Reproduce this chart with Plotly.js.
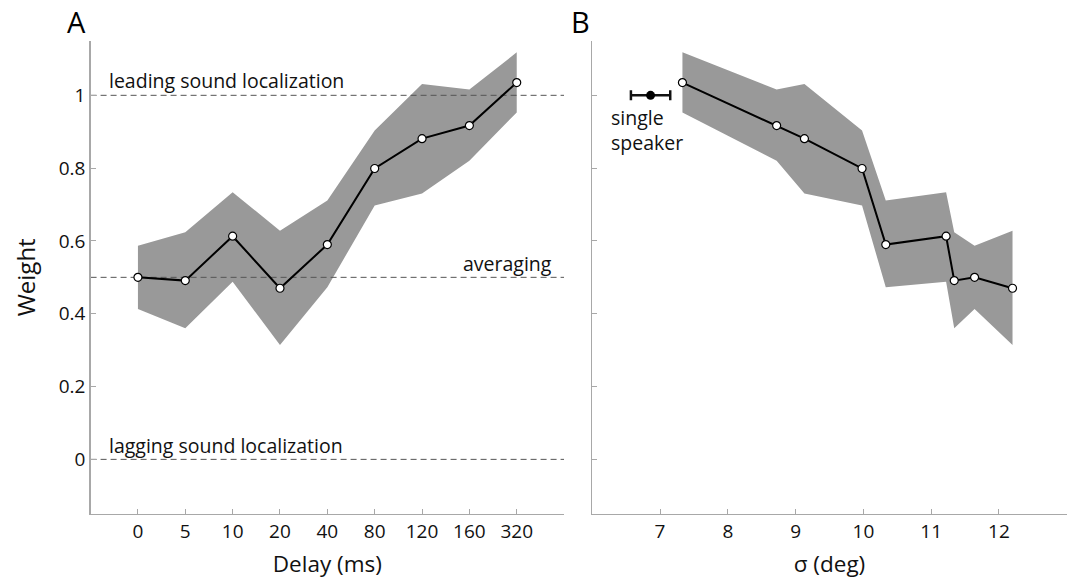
<!DOCTYPE html>
<html><head><meta charset="utf-8">
<script src="https://cdn.plot.ly/plotly-3.0.1.min.js"></script>
<style>html,body{margin:0;padding:0;background:#fff}#chart{width:1072px;height:579px}</style>
</head><body><div id="chart"></div>
<script>
// Panel A: weight vs delay
const delayLabels = ['0','5','10','20','40','80','120','160','320'];
const weightA = [0.500,0.491,0.613,0.470,0.590,0.799,0.881,0.917,1.035];
const upperA  = [0.587,0.624,0.734,0.628,0.711,0.903,1.031,1.016,1.118];
const lowerA  = [0.413,0.360,0.488,0.314,0.473,0.697,0.730,0.820,0.953];

// Panel B: weight vs sigma
const sigmaB  = [7.33,8.72,9.13,9.98,10.33,11.22,11.34,11.64,12.20];
const weightB = [1.035,0.917,0.881,0.799,0.590,0.613,0.491,0.500,0.470];
const upperB  = [1.118,1.016,1.031,0.903,0.711,0.734,0.624,0.587,0.628];
const lowerB  = [0.953,0.820,0.730,0.697,0.473,0.488,0.360,0.413,0.314];

// single speaker reference
const singleSigma = [6.86];
const singleWeight = [1.0];
const singleErr = [0.29];

// reference levels (panel A)
const refLevels = [1, 0.5, 0];
const refLabels = ['leading sound localization', 'averaging', 'lagging sound localization'];

const yTickVals = [0, 0.2, 0.4, 0.6, 0.8, 1];
const yTickText = ['0', '0.2', '0.4', '0.6', '0.8', '1'];
const sigmaTickVals = [7, 8, 9, 10, 11, 12, 13];
const sigmaTickText = ['7', '8', '9', '10', '11', '12', ''];

const xRangeA = [-1, 9];
const xRangeB = [6, 13];
const yRange = [-0.15, 1.15];

const idxA = delayLabels.map((_, i) => i);
const FONT = "'Open Sans', 'Noto Sans', sans-serif";
const BAND = '#999999';

const traces = [];
// Panel A band
traces.push({x: idxA, y: lowerA, mode: 'lines', line: {width: 0, color: BAND}, hoverinfo: 'skip', xaxis: 'x', yaxis: 'y'});
traces.push({x: idxA, y: upperA, mode: 'lines', line: {width: 0, color: BAND}, fill: 'tonexty', fillcolor: BAND, hoverinfo: 'skip', xaxis: 'x', yaxis: 'y'});
// reference dashed lines
refLevels.forEach(v => {
  traces.push({x: xRangeA, y: [v, v], mode: 'lines', line: {color: '#555', width: 1, dash: '6px,4px'}, hoverinfo: 'skip', xaxis: 'x', yaxis: 'y'});
});
// Panel A line
traces.push({x: idxA, y: weightA, mode: 'lines+markers', line: {color: '#000', width: 2},
  marker: {size: 8, color: '#fff', line: {color: '#000', width: 1.2}}, xaxis: 'x', yaxis: 'y'});

// Panel B band
traces.push({x: sigmaB, y: lowerB, mode: 'lines', line: {width: 0, color: BAND}, hoverinfo: 'skip', xaxis: 'x2', yaxis: 'y2'});
traces.push({x: sigmaB, y: upperB, mode: 'lines', line: {width: 0, color: BAND}, fill: 'tonexty', fillcolor: BAND, hoverinfo: 'skip', xaxis: 'x2', yaxis: 'y2'});
traces.push({x: sigmaB, y: weightB, mode: 'lines+markers', line: {color: '#000', width: 2},
  marker: {size: 8, color: '#fff', line: {color: '#000', width: 1.2}}, xaxis: 'x2', yaxis: 'y2'});
// single speaker
traces.push({x: singleSigma, y: singleWeight, mode: 'markers', marker: {size: 9, color: '#000'},
  error_x: {type: 'data', array: singleErr, visible: true, color: '#111', thickness: 2.5, width: 5},
  xaxis: 'x2', yaxis: 'y2'});

const axisCommon = {
  showline: true, linecolor: '#a8a8a8', linewidth: 1.3, mirror: false,
  ticks: 'inside', ticklen: 5, tickwidth: 1, tickcolor: '#a8a8a8',
  showgrid: false, zeroline: false,
  tickfont: {family: FONT, size: 19, color: '#111'}
};

const layout = {
  width: 1072, height: 579,
  margin: {l: 0, r: 0, t: 0, b: 0},
  paper_bgcolor: '#fff', plot_bgcolor: 'rgba(0,0,0,0)',
  showlegend: false,
  font: {family: FONT, color: '#111'},
  xaxis: Object.assign({}, axisCommon, {
    domain: [0.0845, 0.5262], range: xRangeA, tickvals: idxA, ticktext: delayLabels,
    anchor: 'y', title: {text: 'Delay (ms)', font: {family: FONT, size: 22.5, color: '#111'}, standoff: 13}
  }),
  yaxis: Object.assign({}, axisCommon, {
    domain: [0.1123, 0.9297], range: yRange, tickvals: yTickVals, ticktext: yTickText,
    anchor: 'x', title: {text: 'Weight', font: {family: FONT, size: 24, color: '#111'}, standoff: 16}
  }),
  xaxis2: Object.assign({}, axisCommon, {
    domain: [0.5525, 0.9951], range: xRangeB, tickvals: sigmaTickVals, ticktext: sigmaTickText,
    anchor: 'y2', title: {text: 'σ (deg)', font: {family: FONT, size: 22.5, color: '#111'}, standoff: 13}
  }),
  yaxis2: Object.assign({}, axisCommon, {
    domain: [0.1123, 0.9297], range: yRange, tickvals: yTickVals, showticklabels: false,
    anchor: 'x2'
  }),
  annotations: [
    {xref: 'paper', yref: 'paper', x: 0.0709, y: 0.9629, text: 'A', showarrow: false,
      xanchor: 'center', yanchor: 'middle', font: {family: FONT, size: 29, color: '#000'}},
    {xref: 'paper', yref: 'paper', x: 0.5415, y: 0.9629, text: 'B', showarrow: false,
      xanchor: 'center', yanchor: 'middle', font: {family: FONT, size: 29, color: '#000'}},
    {xref: 'x', yref: 'y', x: -0.65, y: 1.04, text: refLabels[0], showarrow: false,
      xanchor: 'left', yanchor: 'middle', font: {family: FONT, size: 19.5, color: '#111'}},
    {xref: 'x', yref: 'y', x: 8.78, y: 0.538, text: refLabels[1], showarrow: false,
      xanchor: 'right', yanchor: 'middle', font: {family: FONT, size: 19.5, color: '#111'}},
    {xref: 'x', yref: 'y', x: -0.65, y: 0.037, text: refLabels[2], showarrow: false,
      xanchor: 'left', yanchor: 'middle', font: {family: FONT, size: 19.5, color: '#111'}},
    {xref: 'x2', yref: 'y2', x: 6.24, y: 0.905, text: 'single<br>speaker', showarrow: false,
      xanchor: 'left', yanchor: 'middle', align: 'left', font: {family: FONT, size: 19.5, color: '#111'}}
  ]
};

Plotly.newPlot('chart', traces, layout, {displayModeBar: false, staticPlot: true});
</script>
</body></html>
